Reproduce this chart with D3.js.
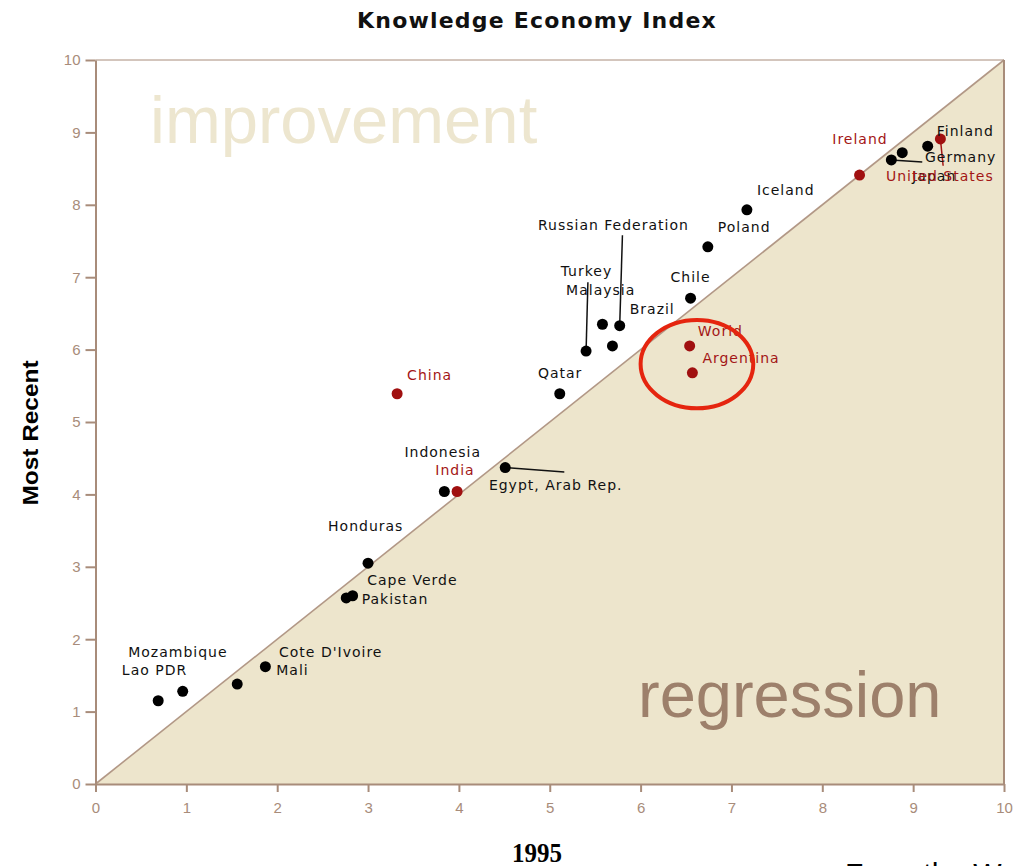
<!DOCTYPE html>
<html>
<head>
<meta charset="utf-8">
<script src="https://cdn.jsdelivr.net/npm/d3@7"></script>
<style>
  body { margin: 0; background: #fff; }
  .tick text { font-family: "Liberation Sans", Arial, sans-serif; font-size: 15px; fill: #a88c7a; }
  .tick line, .domain { stroke: #a88c7a; stroke-width: 2; }
  .lbl { font-family: "DejaVu Sans", sans-serif; font-size: 14px; letter-spacing: 1px; }
</style>
</head>
<body>
<svg id="chart" width="1016" height="866"></svg>
<script>
// countries, 1995 index and most recent index
var countries = ["Lao PDR", "Mozambique", "Cote D'Ivoire", "Mali", "Pakistan", "Cape Verde", "Honduras",
  "Indonesia", "India", "Egypt, Arab Rep.", "China", "Qatar", "Turkey", "Malaysia", "Russian Federation",
  "Brazil", "Chile", "Poland", "Iceland", "World", "Argentina", "Ireland", "Japan", "Germany", "Finland",
  "United States"];
var kei1995 = [0.69, 0.96, 1.56, 1.87, 2.76, 2.83, 3.00, 3.84, 3.98, 4.51, 3.32, 5.11, 5.40, 5.58, 5.77,
  5.69, 6.55, 6.74, 7.17, 6.54, 6.57, 8.41, 8.76, 8.88, 9.16, 9.30];
var keiRecent = [1.15, 1.28, 1.38, 1.62, 2.57, 2.60, 3.05, 4.04, 4.04, 4.37, 5.39, 5.39, 5.98, 6.35, 6.33,
  6.05, 6.71, 7.42, 7.93, 6.05, 5.68, 8.41, 8.62, 8.72, 8.81, 8.91];
var highlighted = ["India", "China", "World", "Argentina", "Ireland", "United States"];

// label anchors, in index units
var labelX = [0.29, 0.36, 2.02, 1.99, 2.93, 2.99, 2.56, 3.40, 3.74, 4.33, 3.43, 4.87, 5.12, 5.18, 4.87,
  5.88, 6.33, 6.85, 7.28, 6.63, 6.68, 8.11, 8.99, 9.13, 9.26, 8.70];
var labelY = [1.51, 1.75, 1.75, 1.51, 2.49, 2.75, 3.49, 4.52, 4.27, 4.06, 5.58, 5.61, 7.02, 6.75, 7.65,
  6.49, 6.93, 7.62, 8.14, 6.19, 5.81, 8.84, 8.33, 8.59, 8.95, 8.33];
// leader lines: country -> end point (index units)
var leaders = [
  ["Turkey", 5.42, 6.93],
  ["Russian Federation", 5.80, 7.58],
  ["Egypt, Arab Rep.", 5.16, 4.31],
  ["Japan", 9.10, 8.59],
  ["United States", 9.33, 8.54]
];
var ticks = [0, 1, 2, 3, 4, 5, 6, 7, 8, 9, 10];

var axisCol = "#a88c7a", redCol = "#a31616";
var svg = d3.select("#chart");

var x = d3.scaleLinear().domain([0, 10]).range([95.5, 1004]);
var y = d3.scaleLinear().domain([0, 10]).range([784, 60]);

var points = countries.map(function(c, i) {
  return { name: c, x: kei1995[i], y: keiRecent[i], lx: labelX[i], ly: labelY[i],
    red: highlighted.indexOf(c) >= 0 };
});

// regression triangle
svg.append("path")
  .attr("d", "M" + x(0) + "," + y(0) + "L" + x(10) + "," + y(10) + "L" + x(10) + "," + y(0) + "Z")
  .attr("fill", "#ede5cc");
svg.append("line")
  .attr("x1", x(0)).attr("y1", y(0)).attr("x2", x(10)).attr("y2", y(10))
  .attr("stroke", "#b29886").attr("stroke-width", 1.6);

// frame top and right
svg.append("line").attr("x1", x(0)).attr("x2", x(10)).attr("y1", y(10)).attr("y2", y(10))
  .attr("stroke", axisCol).attr("stroke-width", 1);
svg.append("line").attr("x1", x(10)).attr("x2", x(10)).attr("y1", y(10)).attr("y2", y(0))
  .attr("stroke", axisCol).attr("stroke-width", 2);

svg.append("text").text("improvement")
  .attr("x", 150).attr("y", 143)
  .attr("font-family", "Liberation Sans, Arial, sans-serif").attr("font-size", 67)
  .attr("fill", "#ede6cf");
svg.append("text").text("regression")
  .attr("x", 638).attr("y", 717)
  .attr("font-family", "Liberation Sans, Arial, sans-serif").attr("font-size", 65)
  .attr("fill", "#9d806b");

// axes
var gx = svg.append("g").attr("transform", "translate(0," + y(0) + ")")
  .call(d3.axisBottom(x).tickValues(ticks).tickFormat(d3.format("d")).tickSize(8).tickPadding(10).tickSizeOuter(0));
var gy = svg.append("g").attr("transform", "translate(" + x(0) + ",0)")
  .call(d3.axisLeft(y).tickValues(ticks).tickFormat(d3.format("d")).tickSize(10).tickPadding(5).tickSizeOuter(0));

// leader lines
svg.selectAll("line.leader")
  .data(leaders)
  .enter()
  .append("line")
  .attr("class", "leader")
  .attr("x1", function(d) { var p = points[countries.indexOf(d[0])]; return x(p.x); })
  .attr("y1", function(d) { var p = points[countries.indexOf(d[0])]; return y(p.y); })
  .attr("x2", function(d) { return x(d[1]); })
  .attr("y2", function(d) { return y(d[2]); })
  .attr("stroke", function(d) { return highlighted.indexOf(d[0]) >= 0 ? redCol : "#111"; })
  .attr("stroke-width", 1.5);

// dots
svg.selectAll("circle.dot")
  .data(points)
  .enter()
  .append("circle")
  .attr("class", "dot")
  .attr("cx", function(d) { return x(d.x); })
  .attr("cy", function(d) { return y(d.y); })
  .attr("r", 5.5)
  .attr("fill", function(d) { return d.red ? "#a01010" : "#000"; });

// labels
svg.selectAll("text.lbl")
  .data(points)
  .enter()
  .append("text")
  .attr("class", "lbl")
  .attr("x", function(d) { return x(d.lx); })
  .attr("y", function(d) { return y(d.ly); })
  .attr("fill", function(d) { return d.red ? redCol : "#111"; })
  .text(function(d) { return d.name; });

// circled area
svg.append("ellipse")
  .attr("cx", x(6.62)).attr("cy", y(5.8))
  .attr("rx", x(6.62 + 0.62) - x(6.62)).attr("ry", y(5.8) - y(5.8 + 0.61))
  .attr("fill", "none").attr("stroke", "#e5250f").attr("stroke-width", 4);

// titles
svg.append("text").text("Knowledge Economy Index")
  .attr("x", 537).attr("y", 28).attr("text-anchor", "middle")
  .attr("font-family", "DejaVu Sans, sans-serif").attr("font-weight", "bold").attr("font-size", 22)
  .attr("letter-spacing", 1.2)
  .attr("fill", "#111");
svg.append("text").text("Most Recent")
  .attr("transform", "translate(38,433) rotate(-90)").attr("text-anchor", "middle")
  .attr("textLength", 145).attr("lengthAdjust", "spacingAndGlyphs")
  .attr("font-family", "Liberation Sans, Arial, sans-serif").attr("font-weight", "bold").attr("font-size", 22)
  .attr("fill", "#000");
svg.append("text").text("1995")
  .attr("x", 537).attr("y", 862).attr("text-anchor", "middle")
  .attr("textLength", 50).attr("lengthAdjust", "spacingAndGlyphs")
  .attr("font-family", "Liberation Serif, Times New Roman, serif").attr("font-weight", "bold").attr("font-size", 28)
  .attr("fill", "#000");
svg.append("text").text("From the World Bank")
  .attr("x", 845).attr("y", 884)
  .attr("font-family", "Liberation Sans, Arial, sans-serif").attr("font-size", 30)
  .attr("fill", "#000");
</script>
</body>
</html>
